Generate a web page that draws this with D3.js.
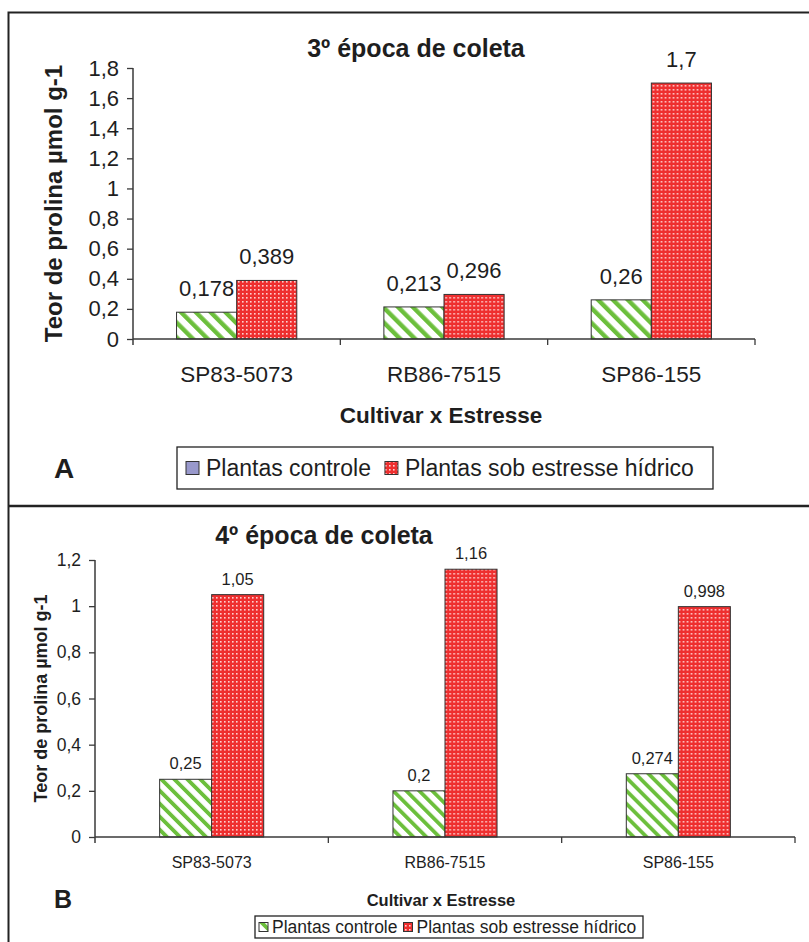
<!DOCTYPE html>
<html>
<head>
<meta charset="utf-8">
<script src="https://cdn.jsdelivr.net/npm/d3@7"></script>
<style>
  html, body { margin: 0; padding: 0; background: #fff; }
  svg { display: block; font-family: "Liberation Sans", Arial, sans-serif; }
</style>
</head>
<body>
<svg id="chart" width="809" height="942"></svg>
<script>
// ---------- data ----------
const categories = ["SP83-5073", "RB86-7515", "SP86-155"];
const seriesNames = ["Plantas controle", "Plantas sob estresse hídrico"];
const controlA = [0.178, 0.213, 0.26];
const stressA = [0.389, 0.296, 1.7];
const controlB = [0.25, 0.2, 0.274];
const stressB = [1.05, 1.16, 0.998];
const ticksA = [0, 0.2, 0.4, 0.6, 0.8, 1, 1.2, 1.4, 1.6, 1.8];
const ticksB = [0, 0.2, 0.4, 0.6, 0.8, 1, 1.2];
const titleA = "3º época de coleta";
const titleB = "4º época de coleta";
const yTitle = "Teor de prolina µmol g-1";
const xTitle = "Cultivar x Estresse";

const fmt = v => String(v).replace(".", ",");
const svg = d3.select("#chart");
const TXT = "#1e1e1e";
const AX = "#3a3a3a";

// ---------- patterns ----------
const defs = svg.append("defs");
const red = defs.append("pattern").attr("id", "redDots")
  .attr("patternUnits", "userSpaceOnUse").attr("width", 4).attr("height", 4);
red.append("rect").attr("width", 4).attr("height", 4).attr("fill", "#ee2f2f");
red.append("rect").attr("x", 1).attr("y", 1).attr("width", 1.6).attr("height", 1.6)
  .attr("fill", "#ffd0d0");

function greenPattern(id, period, stripe) {
  const p = defs.append("pattern").attr("id", id)
    .attr("patternUnits", "userSpaceOnUse").attr("width", period).attr("height", period)
    .attr("patternTransform", "rotate(-45)");
  p.append("rect").attr("width", period).attr("height", period).attr("fill", "#ffffff");
  p.append("rect").attr("width", stripe).attr("height", period).attr("fill", "#6cbf3c");
}
greenPattern("greenA", 10.5, 4.4);
greenPattern("greenB", 9.2, 3.8);

// ---------- frame ----------
svg.append("rect").attr("x", 8.5).attr("y", 12.5).attr("width", 820).attr("height", 950)
  .attr("fill", "none").attr("stroke", "#222").attr("stroke-width", 2);
svg.append("line").attr("x1", 8).attr("x2", 809).attr("y1", 506).attr("y2", 506)
  .attr("stroke", "#222").attr("stroke-width", 2.5);

function drawPanel(c) {
  const g = svg.append("g");
  const x = d3.scaleBand().domain(categories).range([c.x0, c.x1]);
  const bw = x.bandwidth();
  const xs = d3.scaleBand().domain(seriesNames)
    .range([bw * (1 - c.group) / 2, bw * (1 + c.group) / 2]);
  const y = d3.scaleLinear().domain(c.domain).range([c.y0, c.y1]);

  const rows = categories.map((cat, i) => ({ cat, vals: [c.control[i], c.stress[i]] }));
  const grp = g.selectAll("g.grp").data(rows).join("g")
    .attr("transform", d => `translate(${x(d.cat)},0)`);
  grp.selectAll("rect").data(d => d.vals.map((v, j) => ({ v, s: seriesNames[j], j })))
    .join("rect")
    .attr("x", d => xs(d.s)).attr("width", xs.bandwidth())
    .attr("y", d => y(d.v)).attr("height", d => y(0) - y(d.v))
    .attr("fill", d => d.j === 0 ? `url(#${c.greenId})` : "url(#redDots)")
    .attr("stroke", "#333").attr("stroke-width", 1);
  grp.selectAll("text").data(d => d.vals.map((v, j) => ({ v, s: seriesNames[j] })))
    .join("text")
    .attr("x", d => xs(d.s) + xs.bandwidth() / 2)
    .attr("y", d => y(d.v) - c.labelGap)
    .attr("text-anchor", "middle").attr("font-size", c.valSize).attr("fill", TXT)
    .text(d => fmt(d.v));

  // y axis
  const ya = g.append("g").attr("transform", `translate(${c.x0},0)`)
    .call(d3.axisLeft(y).tickValues(c.ticks).tickFormat(fmt).tickSize(6).tickSizeOuter(0).tickPadding(c.tickPad));
  ya.select(".domain").attr("stroke", AX).attr("stroke-width", 1.5)
    .attr("d", `M0,${c.y1}V${c.y0 + 6}`);
  ya.selectAll(".tick line").attr("stroke", AX).attr("stroke-width", 1.3);
  ya.selectAll(".tick text").attr("font-size", c.tickSize).attr("fill", TXT)
    .attr("font-family", "Liberation Sans, Arial, sans-serif");

  // x axis: ticks between categories
  const xa = g.append("g");
  xa.append("line").attr("x1", c.x0).attr("x2", c.x1).attr("y1", c.y0).attr("y2", c.y0)
    .attr("stroke", AX).attr("stroke-width", 1.5);
  const bounds = categories.map(cat => x(cat) + bw);
  xa.selectAll("line.tk").data(bounds).join("line").attr("class", "tk")
    .attr("x1", d => d).attr("x2", d => d).attr("y1", c.y0).attr("y2", c.y0 + 6)
    .attr("stroke", AX).attr("stroke-width", 1.3);
  xa.selectAll("text").data(categories).join("text")
    .attr("x", d => x(d) + bw / 2).attr("y", c.catY)
    .attr("text-anchor", "middle").attr("font-size", c.catSize).attr("fill", TXT)
    .text(d => d);

  // titles
  g.append("text").attr("x", c.titleX).attr("y", c.titleY).attr("text-anchor", "middle")
    .attr("font-size", c.titleSize).attr("font-weight", "bold").attr("fill", TXT).text(c.title);
  g.append("text").attr("x", c.xTitleX).attr("y", c.xTitleY).attr("text-anchor", "middle")
    .attr("font-size", c.xTitleSize).attr("font-weight", "bold").attr("fill", TXT).text(xTitle);
  g.append("text")
    .attr("transform", `translate(${c.yTitleX},${(c.y0 + c.y1) / 2}) rotate(-90)`)
    .attr("text-anchor", "middle").attr("font-size", c.yTitleSize).attr("font-weight", "bold")
    .attr("fill", TXT).text(yTitle);
  g.append("text").attr("x", 54).attr("y", c.letterY).attr("font-size", c.letterSize)
    .attr("font-weight", "bold").attr("fill", TXT).text(c.letter);

  // legend
  const L = c.legend;
  g.append("rect").attr("x", L.x).attr("y", L.y).attr("width", L.w).attr("height", L.h)
    .attr("fill", "#fff").attr("stroke", "#222").attr("stroke-width", 1.3);
  let cx = L.x + L.pad;
  seriesNames.forEach((name, j) => {
    g.append("rect").attr("x", cx).attr("y", L.y + (L.h - L.sq) / 2).attr("width", L.sq).attr("height", L.sq)
      .attr("fill", j === 0 ? L.ctrlFill : "url(#redDots)").attr("stroke", j === 0 ? L.ctrlStroke : "#333")
      .attr("stroke-width", 1);
    const t = g.append("text").attr("x", cx + L.sq + L.gap).attr("y", L.y + L.h / 2)
      .attr("dy", "0.36em").attr("font-size", L.size).attr("fill", TXT).text(name);
    cx += L.sq + L.gap + t.node().getComputedTextLength() + L.itemGap;
  });
}

drawPanel({
  control: controlA, stress: stressA, domain: [0, 1.8], ticks: ticksA,
  x0: 133, x1: 755, y0: 339, y1: 68, group: 0.58, greenId: "greenA",
  labelGap: 16, valSize: 22, tickSize: 22, tickPad: 8, catY: 382, catSize: 22.5,
  title: titleA, titleX: 416, titleY: 57, titleSize: 25,
  xTitleX: 441, xTitleY: 423, xTitleSize: 22.5,
  yTitleX: 62, yTitleSize: 24,
  letter: "A", letterY: 478, letterSize: 28,
  legend: { x: 177, y: 447, w: 536, h: 42, pad: 9, sq: 13, gap: 7, itemGap: 14,
            size: 23, ctrlFill: "#9999cc", ctrlStroke: "#333" }
});

drawPanel({
  control: controlB, stress: stressB, domain: [0, 1.2], ticks: ticksB,
  x0: 95, x1: 795, y0: 837, y1: 560, group: 0.446, greenId: "greenB",
  labelGap: 10, valSize: 16.5, tickSize: 17.5, tickPad: 8, catY: 868, catSize: 16,
  title: titleB, titleX: 324, titleY: 544, titleSize: 25,
  xTitleX: 441, xTitleY: 906, xTitleSize: 16.5,
  yTitleX: 47, yTitleSize: 18,
  letter: "B", letterY: 908, letterSize: 25,
  legend: { x: 255, y: 916, w: 388, h: 22, pad: 4, sq: 9, gap: 4, itemGap: 6,
            size: 17.5, ctrlFill: "url(#greenB)", ctrlStroke: "#333" }
});
</script>
</body>
</html>
